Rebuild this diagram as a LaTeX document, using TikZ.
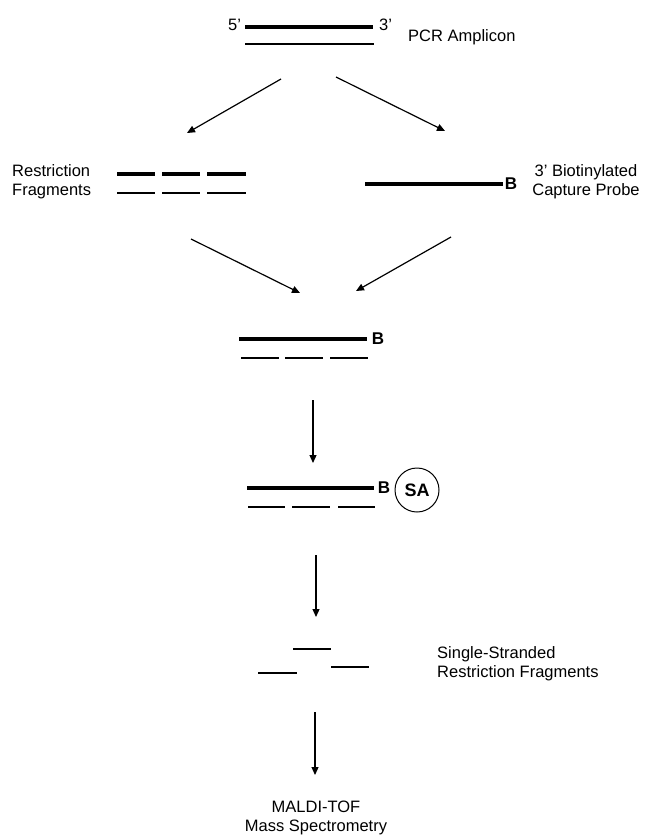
\documentclass[tikz,border=0pt]{standalone}
\usepackage{fontspec}
\setmainfont{Liberation Sans}
\usetikzlibrary{arrows.meta}
\begin{document}
\begin{tikzpicture}[x=1pt,y=-1pt,
  thickstrand/.style={line width=4.3pt},
  thinstrand/.style={line width=1.3pt},
  flow/.style={line width=1.2pt,-{Triangle[length=8pt,width=7pt]}},
  lbl/.style={font=\fontsize{16.5}{19}\selectfont, inner sep=0pt},
  biot/.style={font=\fontsize{17}{20}\selectfont\bfseries, inner sep=0pt},
]
\useasboundingbox (0,0) rectangle (647,837);

% PCR amplicon
\draw[thickstrand] (245,27) -- (373,27);
\draw[thinstrand] (245,44) -- (374,44);
\node[lbl,anchor=base west] (five) at (228,31) {5’};
\node[lbl,anchor=base west] (three) at (379,31) {3’};
\node[lbl,anchor=base west] (pcr) at (408,42) {PCR Amplicon};

% restriction fragments
\foreach \a/\b in {117/155,162/200,207/246}{
  \draw[thickstrand] (\a,174) -- (\b,174);
  \draw[thinstrand] (\a,193) -- (\b,193);
}
\node[lbl,anchor=base west,align=left] (rf) at (12,195) {Restriction\\Fragments};

% capture probe
\draw[thickstrand] (365,184) -- (503,184);
\node[biot] (b1) at (511,184) {B};
\node[lbl,anchor=base,align=center] (cp) at (586,196) {3’ Biotinylated\\Capture Probe};

% combined
\draw[thickstrand] (239,339) -- (367,339);
\node[biot] (b2) at (378,339) {B};
\foreach \a/\b in {241/279,285/323,330/368}{
  \draw[thinstrand] (\a,358) -- (\b,358);
}

% with streptavidin
\draw[thickstrand] (247,488) -- (374,488);
\node[biot] (b3) at (384,488) {B};
\node[draw,circle,line width=1pt,minimum size=44pt,inner sep=0pt,
  font=\fontsize{18}{20}\selectfont\bfseries] (sa) at (417,490) {SA};
\foreach \a/\b in {248/285,292/330,338/375}{
  \draw[thinstrand] (\a,507) -- (\b,507);
}

% single strands
\draw[thinstrand] (293,649) -- (331,649);
\draw[thinstrand] (258,673) -- (297,673);
\draw[thinstrand] (331,667) -- (369,667);
\node[lbl,anchor=base west,align=left] (ss) at (437,677) {Single-Stranded\\Restriction Fragments};

% MALDI
\node[lbl,anchor=base,align=center] (ms) at (316,831) {MALDI-TOF\\Mass Spectrometry};

% arrows
\coordinate (a1s) at (281,79);  \coordinate (a1e) at (187,133);
\coordinate (a2s) at (336,77);  \coordinate (a2e) at (445,131);
\coordinate (a3s) at (191,239); \coordinate (a3e) at (300,293);
\coordinate (a4s) at (451,237); \coordinate (a4e) at (356,291);
\coordinate (a5s) at (313,400); \coordinate (a5e) at (313,463);
\coordinate (a6s) at (316,555); \coordinate (a6e) at (316,617);
\coordinate (a7s) at (315,712); \coordinate (a7e) at (315,775);
\foreach \i in {1,...,7}{
  \draw[flow] (a\i s) -- (a\i e);
}
\end{tikzpicture}
\end{document}
